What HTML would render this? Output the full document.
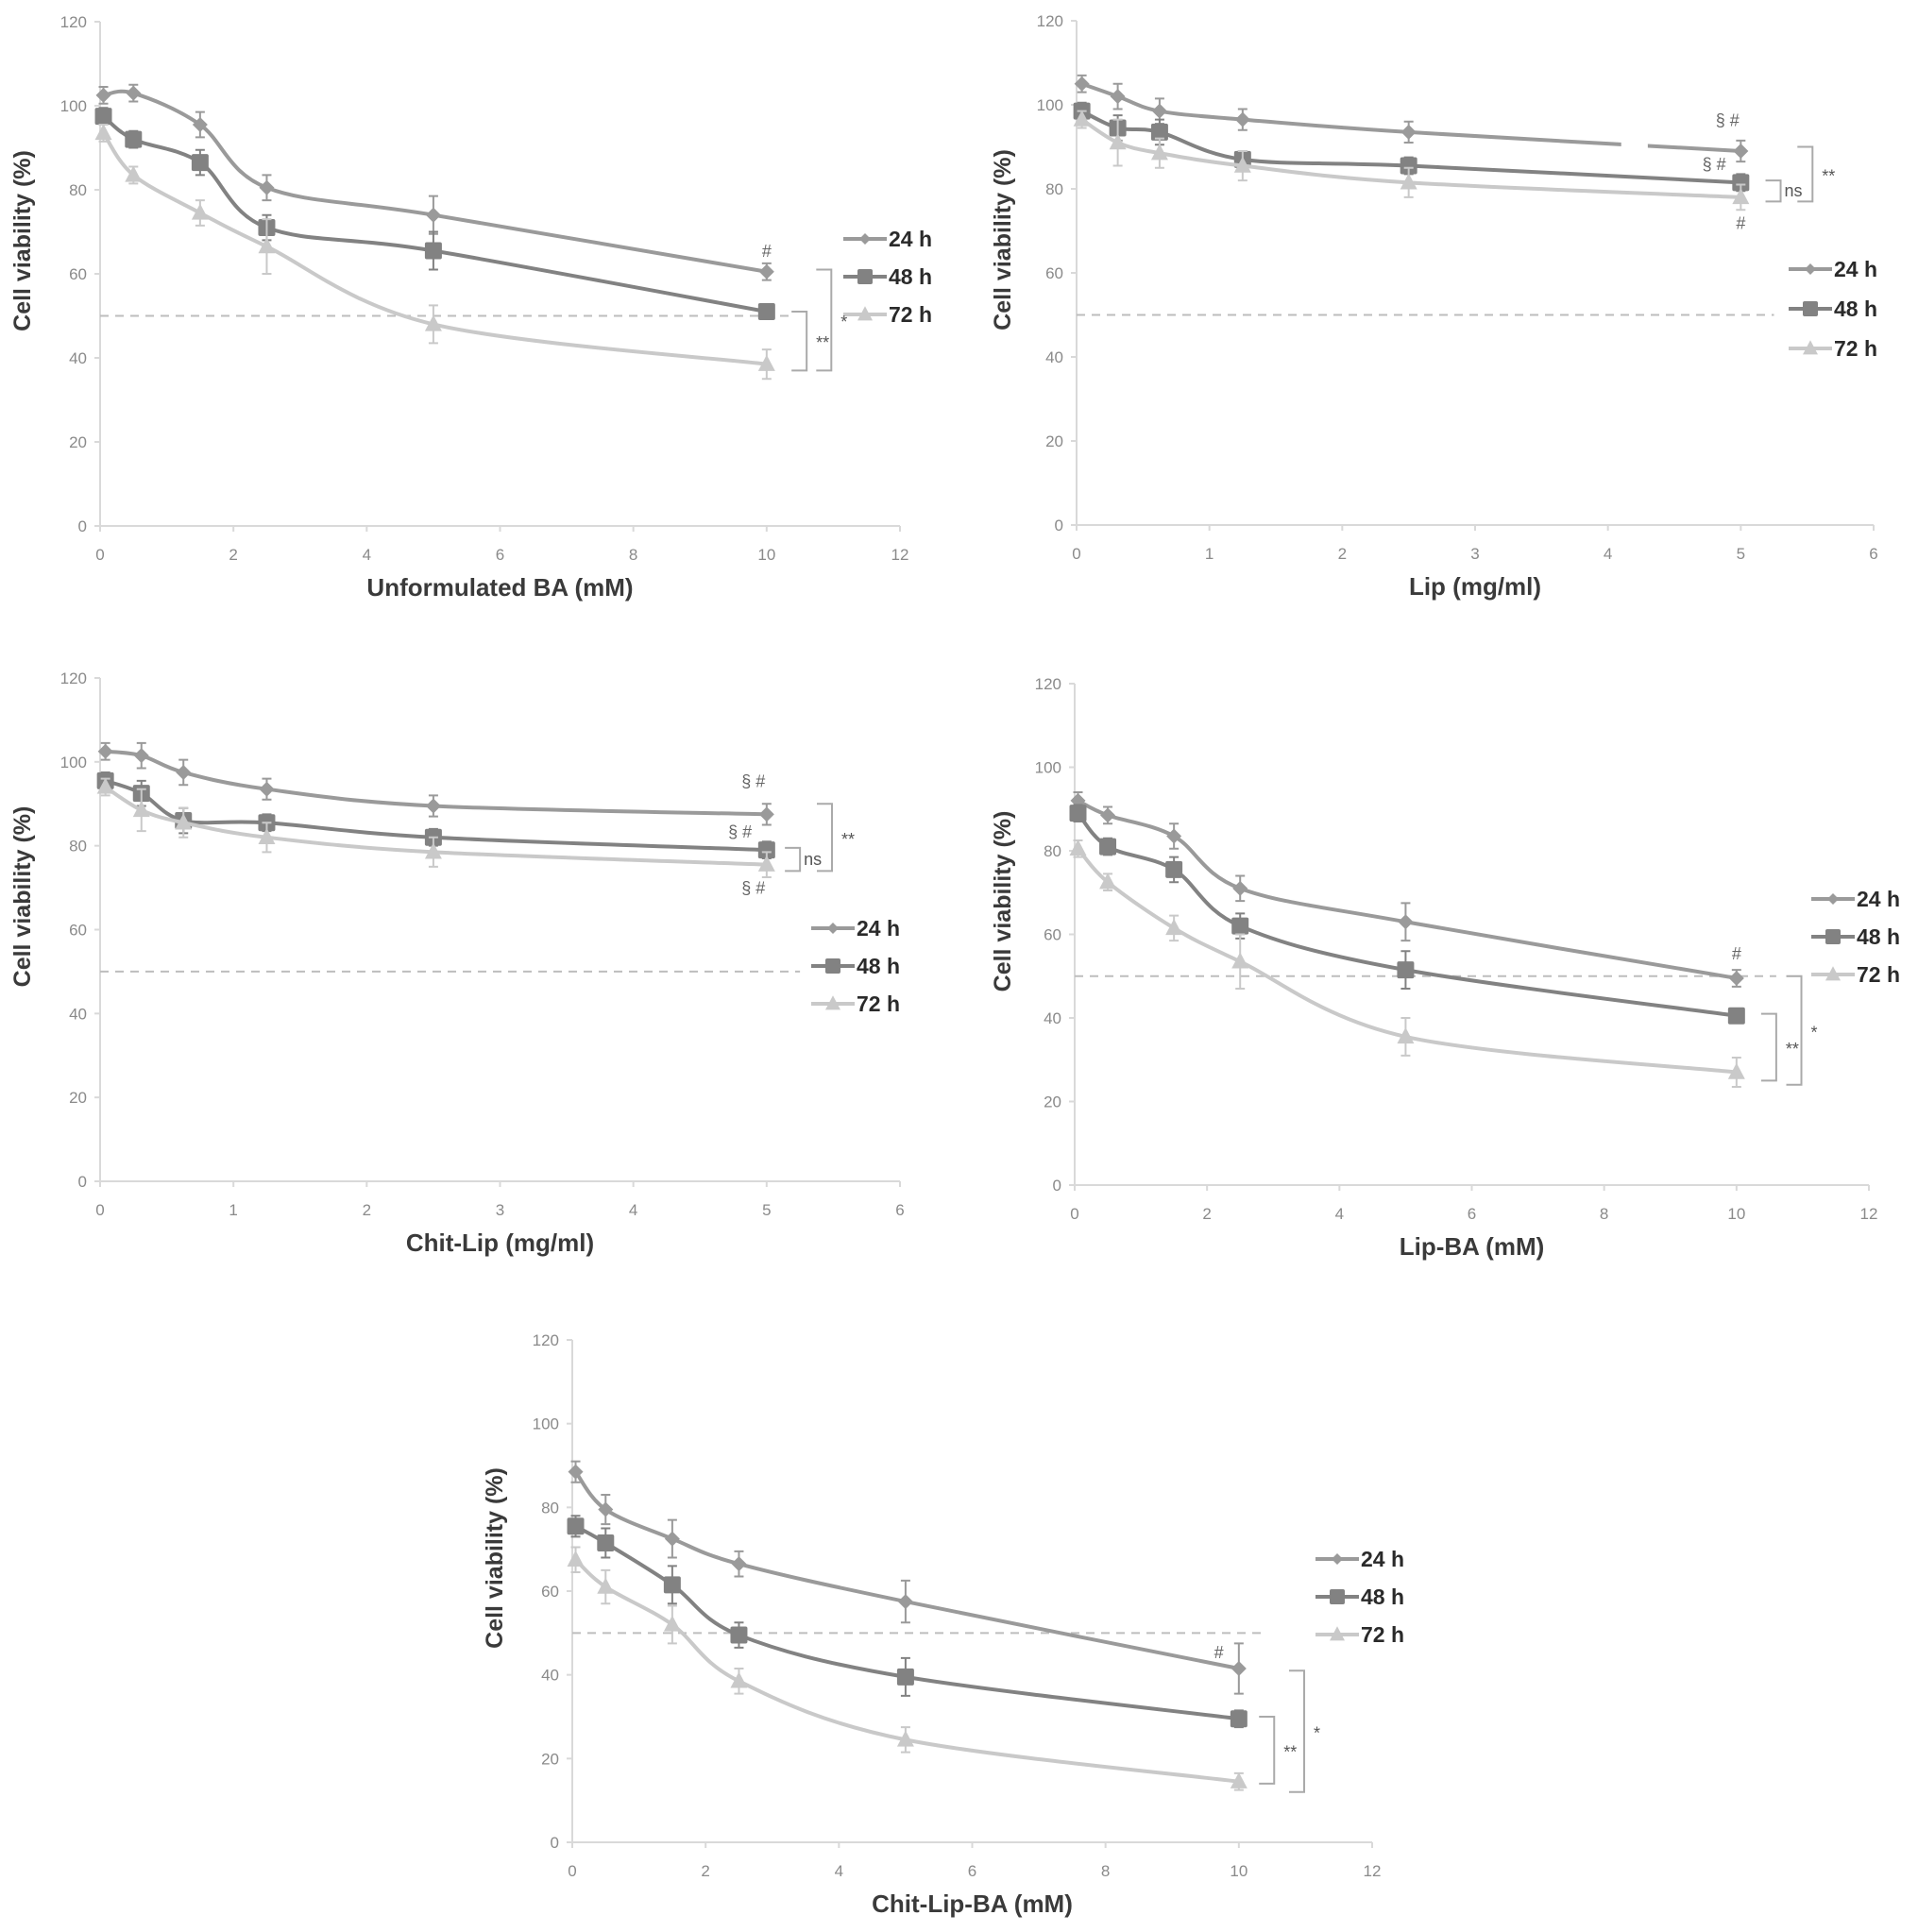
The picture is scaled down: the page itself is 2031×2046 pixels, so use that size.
<!DOCTYPE html>
<html><head><meta charset="utf-8"><style>
html,body{margin:0;padding:0;background:#fff}
svg{display:block}
text{font-family:"Liberation Sans",sans-serif}
</style></head><body>
<svg id="fig" width="2031" height="2046" viewBox="0 0 2031 2046" xmlns="http://www.w3.org/2000/svg"></svg>
<script>
// ---- data ----
const hours = ["24 h","48 h","72 h"];
const xBA = [0.05,0.5,1.5,2.5,5,10];
const xLip = [0.04,0.31,0.625,1.25,2.5,5];
// Panel 1: Unformulated BA
const p1_24 = [102.5,103,95.5,80.5,74,60.5], p1_24e=[2,2,3,3,4.5,2];
const p1_48 = [97.5,92,86.5,71,65.5,51],    p1_48e=[2,2,3,3,4.5,1.5];
const p1_72 = [93.5,83.5,74.5,66.5,48,38.5], p1_72e=[2,2,3,6.5,4.5,3.5];
// Panel 2: Lip
const p2_24 = [105,102,98.5,96.5,93.5,89], p2_24e=[2,3,3,2.5,2.5,2.5];
const p2_48 = [98.5,94.5,93.5,87,85.5,81.5], p2_48e=[2,3,3,2,2,2];
const p2_72 = [96.5,91,88.5,85.5,81.5,78], p2_72e=[2,5.5,3.5,3.5,3.5,3];
// Panel 3: Chit-Lip
const p3_24 = [102.5,101.5,97.5,93.5,89.5,87.5], p3_24e=[2,3,3,2.5,2.5,2.5];
const p3_48 = [95.5,92.5,86,85.5,82,79], p3_48e=[2,3,3,2,2,2];
const p3_72 = [94,88.5,85.5,82,78.5,75.5], p3_72e=[2,5,3.5,3.5,3.5,3];
// Panel 4: Lip-BA
const p4_24 = [92,88.5,83.5,71,63,49.5], p4_24e=[2,2,3,3,4.5,2];
const p4_48 = [89,81,75.5,62,51.5,40.5], p4_48e=[2,2,3,3,4.5,1.5];
const p4_72 = [80.5,72.5,61.5,53.5,35.5,27], p4_72e=[2,2,3,6.5,4.5,3.5];
// Panel 5: Chit-Lip-BA
const p5_24 = [88.5,79.5,72.5,66.5,57.5,41.5], p5_24e=[2.5,3.5,4.5,3,5,6];
const p5_48 = [75.5,71.5,61.5,49.5,39.5,29.5], p5_48e=[2.5,3.5,4.5,3,4.5,2];
const p5_72 = [67.5,61,52,38.5,24.5,14.5], p5_72e=[3,4,4.5,3,3,2];
const yTicks = [0,20,40,60,80,100,120];
const ticksBA = [0,2,4,6,8,10,12];
const ticksLip = [0,1,2,3,4,5,6];

const NS="http://www.w3.org/2000/svg";
const svg=document.getElementById('fig');
const cols=["#9a9a9a","#828282","#c9c9c9"];
function el(tag,attrs,parent){const e=document.createElementNS(NS,tag);for(const k in attrs)e.setAttribute(k,attrs[k]);(parent||svg).appendChild(e);return e;}
function txt(s,attrs,parent){const t=el('text',attrs,parent);t.textContent=s;return t;}
function smooth(pts){
  let d=`M${pts[0][0]},${pts[0][1]}`;
  for(let i=0;i<pts.length-1;i++){
    const p0=pts[i-1]||pts[i],p1=pts[i],p2=pts[i+1],p3=pts[i+2]||p2;
    const c1=[p1[0]+(p2[0]-p0[0])/6,p1[1]+(p2[1]-p0[1])/6];
    const c2=[p2[0]-(p3[0]-p1[0])/6,p2[1]-(p3[1]-p1[1])/6];
    d+=` C${c1[0]},${c1[1]} ${c2[0]},${c2[1]} ${p2[0]},${p2[1]}`;
  }
  return d;
}
function marker(g,kind,x,y,c,s){
  if(kind===0) el('path',{d:`M${x},${y-s} L${x+s},${y} L${x},${y+s} L${x-s},${y} Z`,fill:c},g);
  else if(kind===1) el('rect',{x:x-s,y:y-s,width:2*s,height:2*s,fill:c,rx:2},g);
  else el('path',{d:`M${x},${y-s*1.1} L${x+s},${y+s*0.8} L${x-s},${y+s*0.8} Z`,fill:c},g);
}
function panel(P){
  const g=el('g',{});
  
  
  const X=v=>P.x0+(v-P.xmin)/(P.xmax-P.xmin)*(P.x1-P.x0);
  const Y=v=>P.y0-(v/120)*(P.y0-P.y1);
  const ax=el('line',{x1:P.x0,y1:P.y0,x2:P.x0,y2:P.y1,stroke:"#d9d9d9","stroke-width":2},g);
  
  
  const bx=el('line',{x1:P.x0,y1:P.y0,x2:P.x1,y2:P.y0,stroke:"#d9d9d9","stroke-width":2},g);
  
  
  yTicks.forEach(v=>{
    el('line',{x1:P.x0-6,y1:Y(v),x2:P.x0,y2:Y(v),stroke:"#d9d9d9","stroke-width":2},g);
    const t=txt(v,{x:P.x0-14,y:Y(v)+6,"text-anchor":"end","font-size":17,fill:"#8a8a8a"},g);
    
    
  });
  P.xt.forEach(v=>{
    el('line',{x1:X(v),y1:P.y0,x2:X(v),y2:P.y0+6,stroke:"#d9d9d9","stroke-width":2},g);
    const t=txt(v,{x:X(v),y:P.y0+36,"text-anchor":"middle","font-size":17,fill:"#8a8a8a"},g);
    
    
  });
  const xt=txt(P.xlabel,{x:(P.x0+P.x1)/2,y:P.y0+74,"text-anchor":"middle","font-size":26,"font-weight":"bold",fill:"#3a3a3a"},g);
  
  
  const yc=(P.y0+P.y1)/2-35;
  const yt=txt("Cell viability (%)",{x:P.ylx,y:yc,"text-anchor":"middle","font-size":25,"font-weight":"bold",fill:"#3a3a3a",transform:`rotate(-90 ${P.ylx} ${yc})`},g);
  
  
  const dl=el('line',{x1:P.x0,y1:Y(50),x2:X(P.dashEnd),y2:Y(50),stroke:"#bdbdbd","stroke-width":2,"stroke-dasharray":"9,7"},g);
  
  
  P.series.forEach((s,k)=>{
    const sg=el('g',{},g);
    
    
    const pts=P.xs.map((x,i)=>[X(x),Y(s[i])]);
    el('path',{d:smooth(pts),fill:"none",stroke:cols[k],"stroke-width":4},sg);
    P.errs[k].forEach((e,i)=>{
      const x=X(P.xs[i]);
      el('path',{d:`M${x},${Y(s[i]+e)} V${Y(s[i]-e)} M${x-5},${Y(s[i]+e)} H${x+5} M${x-5},${Y(s[i]-e)} H${x+5}`,stroke:cols[k],"stroke-width":2,fill:"none"},sg);
    });
    pts.forEach(p=>{
      const m=el('g',{},sg);
      
      
      marker(m,k,p[0],p[1],cols[k],k===0?8:9);
    });
  });
  if(P.gap){ el('rect',{x:X(P.gap[0]),y:Y(P.gap[1])-6,width:X(P.gap[2])-X(P.gap[0]),height:12,fill:"#fff"},g); }
  hours.forEach((h,k)=>{
    const lg=el('g',{},g);
    
    
    const ly=P.ly+k*P.ldy;
    el('line',{x1:P.lx,y1:ly,x2:P.lx+46,y2:ly,stroke:cols[k],"stroke-width":4},lg);
    marker(lg,k,P.lx+23,ly,cols[k],k===0?6:8);
    txt(h,{x:P.lx+48,y:ly+8,"font-size":23,"font-weight":"bold",fill:"#2a2a2a"},lg);
  });
  P.br.forEach(b=>{
    const bg=el('g',{},g);
    
    
    const x=X(b.x),ya=Y(b.a),yb=Y(b.b);
    el('path',{d:`M${x-16},${ya} H${x} V${yb} H${x-16}`,fill:"none",stroke:"#aaa","stroke-width":2},bg);
    txt(b.t,{x:x+(b.t==="ns"?4:10),y:(ya+yb)/2+(b.t==="ns"?6:8),"font-size":18,fill:"#555"},bg);
  });
  P.ann.forEach(a=>{
    const t=txt(a.t,{x:X(a.x),y:Y(a.y),"text-anchor":"middle","font-size":18,fill:"#666"},g);
    
    
  });
}
panel({name:'panel-unformulated-ba',x0:106,x1:953,xmin:0,xmax:12,y0:557,y1:23,xt:ticksBA,xs:xBA,
  series:[p1_24,p1_48,p1_72],errs:[p1_24e,p1_48e,p1_72e],xlabel:"Unformulated BA (mM)",ylx:32,dashEnd:10.4,
  lx:893,ly:253,ldy:40,br:[{x:10.6,a:51,b:37,t:"**"},{x:10.97,a:61,b:37,t:"*"}],ann:[{t:"#",x:10,y:64}]});
panel({name:'panel-lip',x0:1140,x1:1984,xmin:0,xmax:6,y0:556,y1:22,xt:ticksLip,xs:xLip,
  series:[p2_24,p2_48,p2_72],errs:[p2_24e,p2_48e,p2_72e],xlabel:"Lip (mg/ml)",ylx:1070,dashEnd:5.25,
  lx:1894,ly:285,ldy:42,gap:[4.1,90.5,4.3],br:[{x:5.3,a:82,b:77,t:"ns"},{x:5.54,a:90,b:77,t:"**"}],
  ann:[{t:"§ #",x:4.9,y:95},{t:"§ #",x:4.8,y:84.5},{t:"#",x:5,y:70.5}]});
panel({name:'panel-chit-lip',x0:106,x1:953,xmin:0,xmax:6,y0:1251,y1:718,xt:ticksLip,xs:xLip,
  series:[p3_24,p3_48,p3_72],errs:[p3_24e,p3_48e,p3_72e],xlabel:"Chit-Lip (mg/ml)",ylx:32,dashEnd:5.25,
  lx:859,ly:983,ldy:40,br:[{x:5.25,a:79.5,b:74,t:"ns"},{x:5.49,a:90,b:74,t:"**"}],
  ann:[{t:"§ #",x:4.9,y:94},{t:"§ #",x:4.8,y:82},{t:"§ #",x:4.9,y:68.5}]});
panel({name:'panel-lip-ba',x0:1138,x1:1979,xmin:0,xmax:12,y0:1255,y1:724,xt:ticksBA,xs:xBA,
  series:[p4_24,p4_48,p4_72],errs:[p4_24e,p4_48e,p4_72e],xlabel:"Lip-BA (mM)",ylx:1070,dashEnd:10.6,
  lx:1918,ly:952,ldy:40,br:[{x:10.6,a:41,b:25,t:"**"},{x:10.98,a:50,b:24,t:"*"}],ann:[{t:"#",x:10,y:54}]});
panel({name:'panel-chit-lip-ba',x0:606,x1:1453,xmin:0,xmax:12,y0:1951,y1:1419,xt:ticksBA,xs:xBA,
  series:[p5_24,p5_48,p5_72],errs:[p5_24e,p5_48e,p5_72e],xlabel:"Chit-Lip-BA (mM)",ylx:532,dashEnd:10.4,
  lx:1393,ly:1651,ldy:40,br:[{x:10.53,a:30,b:14,t:"**"},{x:10.98,a:41,b:12,t:"*"}],ann:[{t:"#",x:9.7,y:44}]});
</script>
</body></html>
